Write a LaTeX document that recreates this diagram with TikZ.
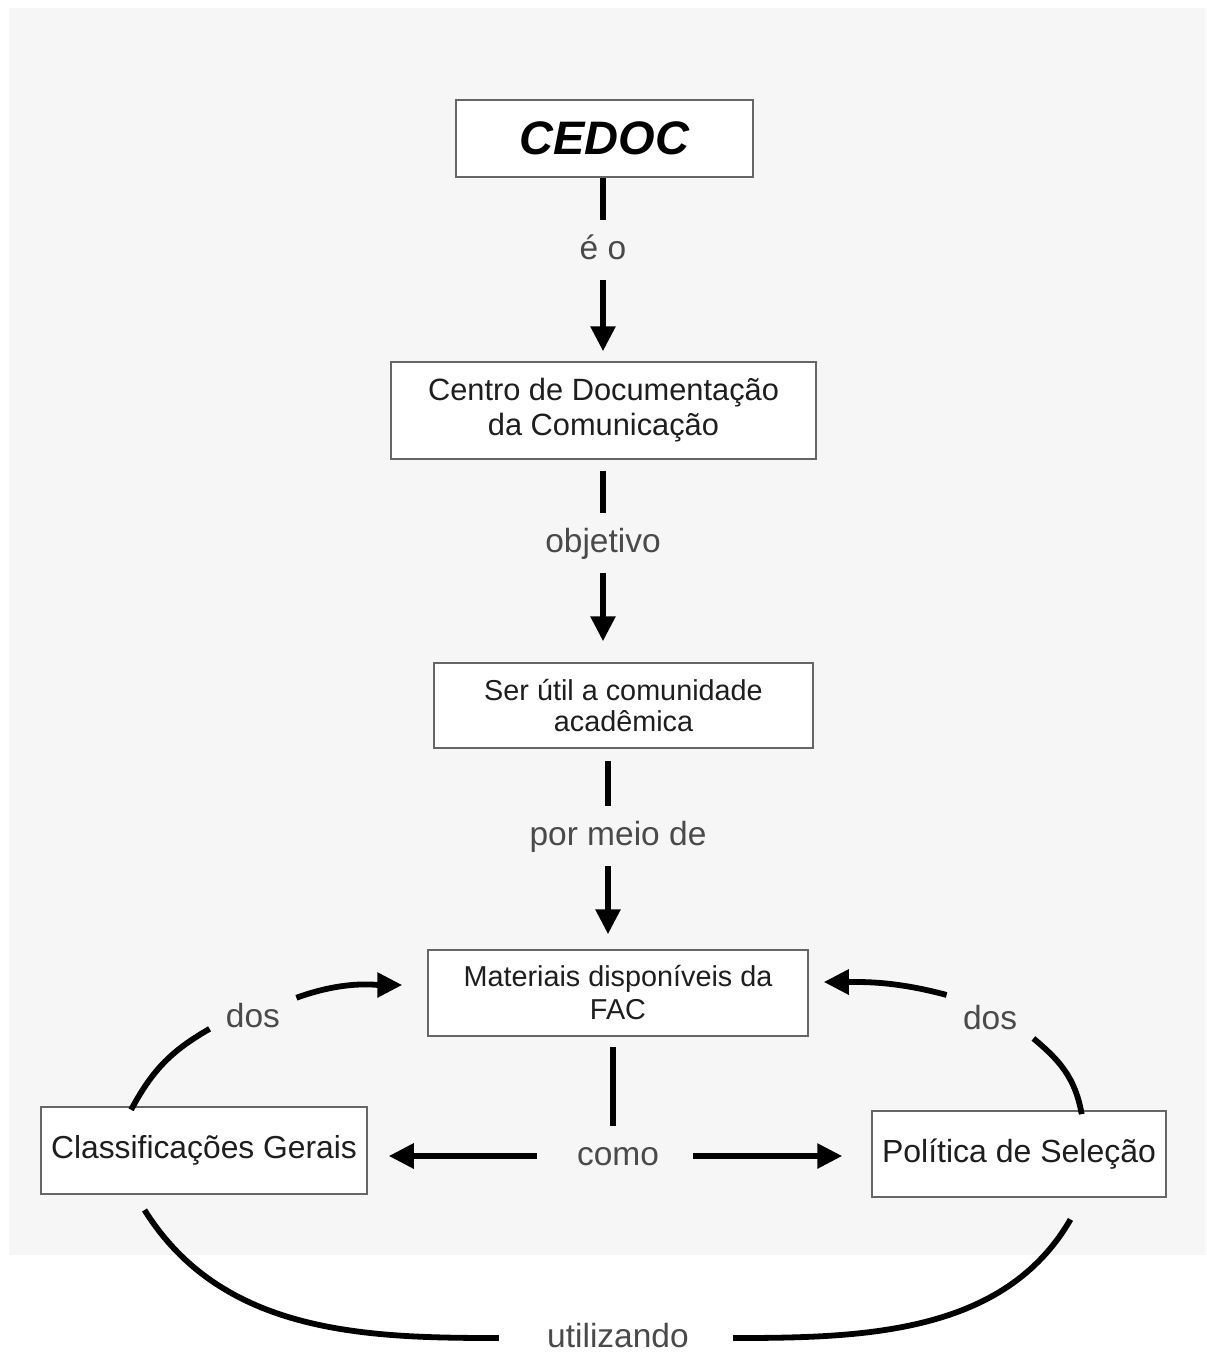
\documentclass[tikz,border=0pt]{standalone}
\usepackage{fontspec}
\setmainfont{Liberation Sans}
\usetikzlibrary{arrows.meta,calc}
\definecolor{bgfill}{HTML}{F6F6F6}
\definecolor{boxline}{HTML}{666666}
\definecolor{lbltext}{HTML}{4A4A4A}
\definecolor{boxtext}{HTML}{1E1E1E}

\begin{document}
\begin{tikzpicture}[x=0.5pt, y=-0.5pt, >={Triangle[width=12pt,length=12.5pt]},
		box/.style={draw=boxline, line width=0.75pt, fill=white, align=center, text=boxtext, inner sep=0pt},
		lbl/.style={text=lbltext, font=\fontsize{16.75}{20}\selectfont, inner xsep=8pt, inner ysep=7.5pt, text height=12pt, text depth=3pt},
		link/.style={line width=2.9pt}]
		% page and grey sheet
		\useasboundingbox (0,0) rectangle (1206,1356);
		\fill[white] (0,0) rectangle (1206,1356);
		\fill[bgfill] (9,8) rectangle (1206,1255);
		%%% concepts
		\node[box, text=black, font=\bfseries\itshape\fontsize{23.5}{28}\selectfont, minimum width=148.5pt, minimum height=38.5pt] (cedoc) at (604.5,138.5) {CEDOC};
		\node[box, font=\fontsize{15.4}{17.5}\selectfont, minimum width=212.5pt, minimum height=48.5pt] (centro) at (603.5,410.5) {Centro de Documentação\\da Comunicação};
		\node[box, font=\fontsize{14.4}{15.5}\selectfont, minimum width=189.5pt, minimum height=42.5pt] (seru) at (623.5,705.5) {Ser útil a comunidade\\acadêmica};
		\node[box, font=\fontsize{14.4}{16.5}\selectfont, minimum width=190pt, minimum height=43pt] (mat) at (618,993) {Materiais disponíveis da\\FAC};
		\node[box, font=\fontsize{15.9}{19}\selectfont, minimum width=163pt, minimum height=43.5pt] (classif) at (204,1150.5) {Classificações Gerais};
		\node[box, font=\fontsize{16}{19}\selectfont, minimum width=147pt, minimum height=43pt] (politica) at (1019,1154) {Política de Seleção};
		%%% linking words
		\node[lbl] (eo) at (603,250) {é o};
		\node[lbl] (obj) at (603,543) {objetivo};
		\node[lbl] (pmd) at (618,836) {por meio de};
		\node[lbl] (como) at (618,1156) {como};
		\node[lbl] (dosL) at (253,1018) {dos};
		\node[lbl] (dosR) at (990,1020) {dos};
		\node[lbl] (util) at (618,1338) {utilizando};
		\coordinate (pmdT) at ([xshift=-5pt]pmd.north);
		\coordinate (pmdB) at ([xshift=-5pt]pmd.south);
		%%% vertical chain
		\draw[link] (eo) -- (eo |- cedoc.south);
		\draw[link,->, shorten >=5pt] (eo) -- (eo |- centro.north);
		\draw[link, shorten >=5.5pt] (obj) -- (obj |- centro.south);
		\draw[link,->, shorten >=10.5pt] (obj) -- (obj |- seru.north);
		\draw[link, shorten >=6pt] (pmdT) -- (pmdT |- seru.south);
		\draw[link,->, shorten >=7.5pt] (pmdB) -- (pmdB |- mat.north);
		\draw[link, shorten >=5pt] ([xshift=-2.5pt]como.north) -- ([xshift=-2.5pt]como.north |- mat.south);
		%%% como: to both sides
		\draw[link,->, shorten <=12pt, shorten >=10.5pt] (como) -- (como -| classif.east);
		\draw[link,->, shorten <=9pt, shorten >=14.5pt] (como) -- (como -| politica.west);
		%%% dos: back up to the materials
		\draw[link, shorten <=-2pt] ([xshift=-35.5pt]classif.north) to[out=62,in=210] (dosL.194);
		\draw[link,->, shorten >=12.5pt] (dosL.25) to[out=20,in=180] ([yshift=4pt]mat.west);
		\draw[link, shorten <=-2pt] ([xshift=31pt]politica.north) to[out=100,in=-40] (dosR.337);
		\draw[link,->, shorten >=7.5pt] (dosR.150) to[out=165,in=0] ([yshift=5.5pt]mat.east);
		%%% utilizando: along the bottom
		\draw[link, shorten <=9pt, shorten >=16pt] ([xshift=-34.5pt]classif.south) to[out=-58,in=180] (util.west);
		\draw[link, shorten <=14pt, shorten >=12.5pt] (util.east) to[out=0,in=240] ([xshift=32pt]politica.south);
	\end{tikzpicture}
\end{document}
